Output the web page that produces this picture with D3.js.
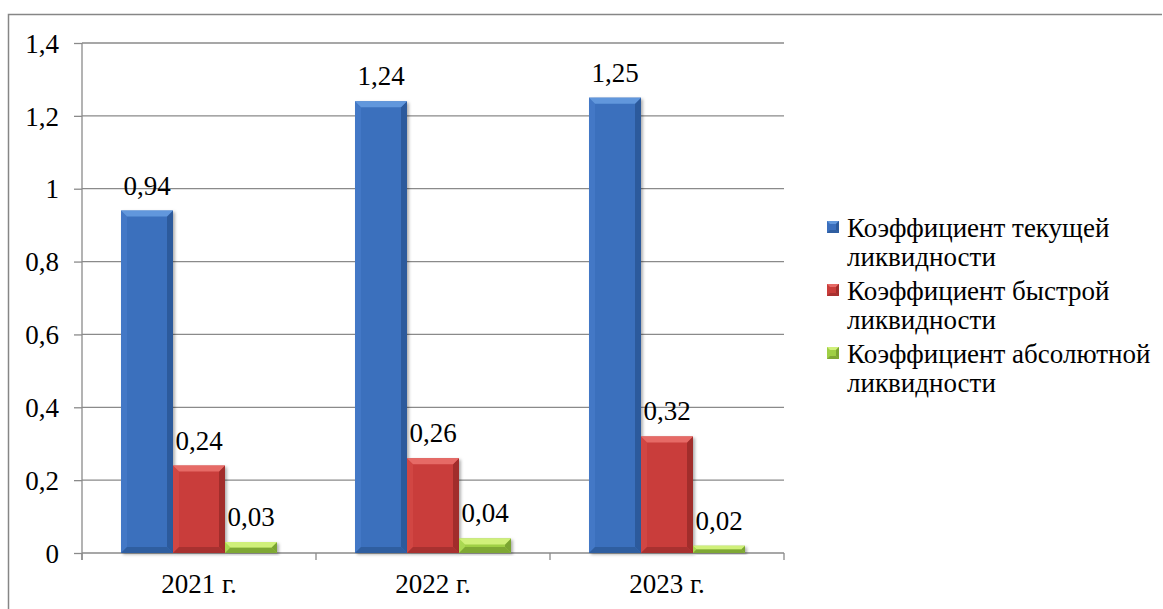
<!DOCTYPE html>
<html><head><meta charset="utf-8">
<script src="https://cdn.jsdelivr.net/npm/d3@7"></script>
</head><body style="margin:0"><svg id="c" width="1163" height="609" font-family="'Liberation Serif', 'Times New Roman', Tinos, Times, serif"></svg>
<script>
const categories = ["2021 г.", "2022 г.", "2023 г."];
const seriesNames = ["Коэффициент текущей ликвидности", "Коэффициент быстрой ликвидности", "Коэффициент абсолютной ликвидности"];
const currentRatio = [0.94, 1.24, 1.25];
const quickRatio = [0.24, 0.26, 0.32];
const absoluteRatio = [0.03, 0.04, 0.02];
const yTicks = [0, 0.2, 0.4, 0.6, 0.8, 1, 1.2, 1.4];

const seriesValues = [currentRatio, quickRatio, absoluteRatio];
const colors = [
  {main:"#3b6fbd", top:"#6197dc", left:"#4378c6", right:"#2c5a9c", bottom:"#2f5ea0"},
  {main:"#c93d3a", top:"#e66a66", left:"#d14643", right:"#a12d2b", bottom:"#a83130"},
  {main:"#9fcf45", top:"#d0f07a", left:"#aad852", right:"#7ba532", bottom:"#7fa834"}
];
const loc = d3.formatLocale({decimal:",", thousands:" ", grouping:[3], currency:["",""]});
const fTick = loc.format("~g"), fVal = loc.format(".2f");

const FONT = "'Liberation Serif', 'Times New Roman', Tinos, Times, serif";
const svg = d3.select("#c");
const txt = sel => sel.attr("style", "font-family: " + FONT + "; font-size: 27px;");

// outer border
svg.append("path").attr("d","M8.5,612 L8.5,14.5 L1162,14.5").attr("fill","none").attr("stroke","#868686").attr("stroke-width",1.5);

const x = d3.scaleBand().domain(categories).range([82,784]).paddingInner(0).paddingOuter(0);
const x1 = d3.scaleBand().domain(d3.range(3)).range([0,x.bandwidth()]).paddingInner(0).paddingOuter(0.75);
const y = d3.scaleLinear().domain([0,1.4]).range([553,43]);

// gridlines
svg.append("g").selectAll("line").data(yTicks.filter(d=>d>0)).join("line")
  .attr("x1",82).attr("x2",784).attr("y1",d=>y(d)).attr("y2",d=>y(d))
  .attr("stroke","#8a8a8a").attr("stroke-width",1.3);

// y axis
const ya = svg.append("g").attr("transform","translate(82,0)")
  .call(d3.axisLeft(y).tickValues(yTicks).tickFormat(fTick).tickSize(8).tickPadding(15));
ya.attr("font-family", FONT).attr("font-size", 27);
ya.select(".domain").remove();
ya.append("line").attr("x1",0).attr("x2",0).attr("y1",y(1.4)).attr("y2",y(0)+7).attr("stroke","#8a8a8a").attr("stroke-width",1.3);
ya.selectAll(".tick line").attr("stroke","#8a8a8a").attr("stroke-width",1.3);
ya.selectAll(".tick text").call(txt).attr("dy","0.34em");

// x axis
const xa = svg.append("g").attr("transform","translate(0,"+y(0)+")");
xa.append("line").attr("x1",82).attr("x2",784).attr("y1",0).attr("y2",0).attr("stroke","#8a8a8a").attr("stroke-width",1.3);
const bounds = [82].concat(categories.map(c=>x(c)+x.bandwidth()));
xa.selectAll("line.t").data(bounds).join("line").attr("class","t")
  .attr("x1",d=>d).attr("x2",d=>d).attr("y1",0).attr("y2",7).attr("stroke","#8a8a8a").attr("stroke-width",1.3);
xa.selectAll("text").data(categories).join("text")
  .attr("x",d=>x(d)+x.bandwidth()/2).attr("y",40).attr("text-anchor","middle").call(txt).text(d=>d);

// bars
const defs = svg.append("defs");
const flt = defs.append("filter").attr("id","sh").attr("x","-20%").attr("y","-20%").attr("width","140%").attr("height","140%");
flt.append("feDropShadow").attr("dx",2).attr("dy",1.5).attr("stdDeviation",1.5).attr("flood-color","#000").attr("flood-opacity",0.3);

const P = pts=>pts.map(p=>p.join(",")).join(" ");
seriesValues.forEach((vals,si)=>{
  const c = colors[si];
  const g = svg.append("g");
  vals.forEach((v,ci)=>{
    const bx = x(categories[ci]) + x1(si), bw = x1.bandwidth();
    const by = y(v), bh = y(0)-y(v);
    const b = Math.min(6, bh/2);
    const bg = g.append("g");
    bg.append("rect").attr("x",bx).attr("y",by).attr("width",bw).attr("height",bh).attr("fill",c.main).attr("filter","url(#sh)");
    bg.append("polygon").attr("points",P([[bx,by],[bx+b,by+b],[bx+b,by+bh-b],[bx,by+bh]])).attr("fill",c.left);
    bg.append("polygon").attr("points",P([[bx+bw,by],[bx+bw-b,by+b],[bx+bw-b,by+bh-b],[bx+bw,by+bh]])).attr("fill",c.right);
    bg.append("polygon").attr("points",P([[bx,by+bh],[bx+b,by+bh-b],[bx+bw-b,by+bh-b],[bx+bw,by+bh]])).attr("fill",c.bottom);
    bg.append("polygon").attr("points",P([[bx,by],[bx+bw,by],[bx+bw-b,by+b],[bx+b,by+b]])).attr("fill",c.top);
    svg.append("text").attr("x",bx+bw/2).attr("y",by-16).attr("text-anchor","middle").call(txt).text(fVal(v));
  });
});

// legend
const lg = svg.append("g");
seriesNames.forEach((name,i)=>{
  const yb = 237 + i*63;
  const c = colors[i];
  const mx = 827, my = yb-16, ms = 12;
  lg.append("rect").attr("x",mx).attr("y",my).attr("width",ms).attr("height",ms).attr("fill",c.main);
  lg.append("polygon").attr("points",`${mx},${my} ${mx+ms},${my} ${mx+ms-3},${my+3} ${mx+3},${my+3}`).attr("fill",c.top);
  lg.append("polygon").attr("points",`${mx+ms},${my} ${mx+ms-3},${my+3} ${mx+ms-3},${my+ms-3} ${mx+ms},${my+ms}`).attr("fill",c.right);
  lg.append("polygon").attr("points",`${mx},${my+ms} ${mx+3},${my+ms-3} ${mx+ms-3},${my+ms-3} ${mx+ms},${my+ms}`).attr("fill",c.bottom);
  const words = name.split(" ");
  const t = lg.append("text").attr("x",847).attr("y",yb).call(txt);
  t.append("tspan").attr("x",847).text(words.slice(0,2).join(" "));
  t.append("tspan").attr("x",847).attr("dy",28.5).text(words.slice(2).join(" "));
});
</script></body></html>
